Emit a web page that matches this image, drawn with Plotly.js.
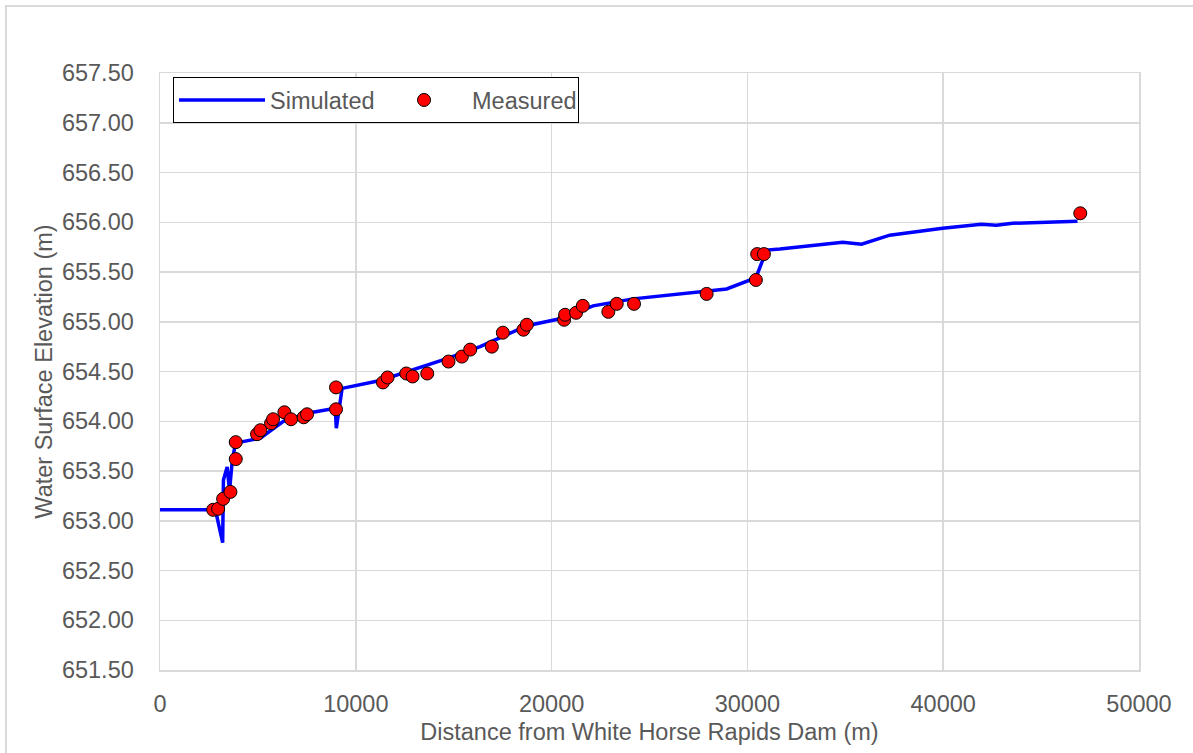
<!DOCTYPE html>
<html>
<head>
<meta charset="utf-8">
<script src="https://cdn.plot.ly/plotly-3.0.1.min.js"></script>
<style>
  html, body { margin: 0; padding: 0; background: #fff; overflow: hidden; }
  #frame { position: absolute; left: 5px; top: 5px; width: 1400px; height: 1000px;
           border-left: 2px solid #d9d9d9; border-top: 2px solid #d9d9d9; box-sizing: border-box; }
  #chart { position: absolute; left: 0; top: 0; width: 1193px; height: 753px; }
</style>
</head>
<body>
<div id="frame"></div>
<div id="chart"></div>
<script>
// Simulated water surface profile
const simDistance = [0, 2830, 3200, 3240, 3430, 3550, 3680, 3850, 5130, 6300, 7510, 8950, 9005, 9300,
  11250, 13950, 14650, 16350, 18735, 20430, 22120, 24160, 28090, 28940, 30280, 30470, 30980, 31660,
  34870, 35830, 37270, 39970, 41950, 42710, 43550, 46860];
const simElevation = [653.11, 653.11, 652.78, 653.41, 653.54, 653.30, 653.58, 653.78, 653.83, 654.00, 654.08, 654.13, 653.93, 654.33,
  654.41, 654.585, 654.63, 654.75, 654.96, 655.03, 655.16, 655.23, 655.31, 655.33, 655.43, 655.46, 655.72, 655.73,
  655.80, 655.78, 655.87, 655.94, 655.98, 655.97, 655.99, 656.01];

// Measured water surface elevations
const measDistance = [2714, 2969, 3224, 3597, 3869, 3869, 4957, 5128, 5672, 5774, 6352, 6692, 7338, 7510, 8990, 8990,
  11386, 11622, 12577, 12899, 13648, 14735, 15418, 15842, 16949, 17510, 18561, 18735, 20638, 20689, 21250, 21592,
  22898, 23326, 24209, 27918, 30434, 30500, 30842, 47000];
const measElevation = [653.11, 653.12, 653.22, 653.29, 653.62, 653.79, 653.87, 653.91, 653.98, 654.02, 654.09, 654.02, 654.04, 654.07, 654.12, 654.34,
  654.39, 654.44, 654.48, 654.45, 654.48, 654.60, 654.65, 654.72, 654.75, 654.89, 654.92, 654.97, 655.02, 655.07, 655.09, 655.16,
  655.10, 655.18, 655.18, 655.28, 655.42, 655.68, 655.68, 656.09];

const xTickVals = [0, 10000, 20000, 30000, 40000, 50000];
const xTickText = ['0', '10000', '20000', '30000', '40000', '50000'];
const yTickVals = [651.5, 652.0, 652.5, 653.0, 653.5, 654.0, 654.5, 655.0, 655.5, 656.0, 656.5, 657.0, 657.5];
const yTickText = ['651.50', '652.00', '652.50', '653.00', '653.50', '654.00', '654.50', '655.00', '655.50', '656.00', '656.50', '657.00', '657.50'];

const FONT = 'Liberation Sans, Arial, sans-serif';
const TXT = '#595959';

const traces = [
  { x: simDistance, y: simElevation, mode: 'lines', name: 'Simulated',
    line: { color: '#0000ff', width: 3.5 } },
  { x: measDistance, y: measElevation, mode: 'markers', name: 'Measured',
    marker: { color: '#ff0000', size: 13, line: { color: '#000000', width: 1 } } }
];

const layout = {
  width: 1193, height: 753,
  paper_bgcolor: 'rgba(0,0,0,0)', plot_bgcolor: 'rgba(0,0,0,0)',
  margin: { l: 160, r: 54, t: 73, b: 83 },
  font: { family: FONT, size: 23.5, color: TXT },
  showlegend: true,
  legend: {
    orientation: 'h', x: 0.0133, y: 0.993, xanchor: 'left', yanchor: 'top',
    bgcolor: '#ffffff', bordercolor: '#000000', borderwidth: 1,
    font: { family: FONT, size: 23.5, color: TXT },
    entrywidth: 101, itemwidth: 86
  },
  xaxis: {
    range: [0, 50000], tickvals: xTickVals, ticktext: xTickText,
    showgrid: true, gridcolor: '#d9d9d9', gridwidth: 1.5,
    showline: true, linecolor: '#d9d9d9', linewidth: 1.5, mirror: true,
    zeroline: false, ticks: '', ticklabelstandoff: 12,
    tickfont: { family: FONT, size: 23.5, color: TXT },
    title: { text: 'Distance from White Horse Rapids Dam (m)', standoff: 8,
             font: { family: FONT, size: 23.5, color: TXT } },
    automargin: false
  },
  yaxis: {
    range: [651.5, 657.5], tickvals: yTickVals, ticktext: yTickText,
    showgrid: true, gridcolor: '#d9d9d9', gridwidth: 1.5,
    showline: true, linecolor: '#d9d9d9', linewidth: 1.5, mirror: true,
    zeroline: false, ticks: '', ticklabelstandoff: 20,
    tickfont: { family: FONT, size: 23.5, color: TXT },
    title: { text: 'Water Surface Elevation (m)', standoff: 2,
             font: { family: FONT, size: 23.5, color: TXT } },
    automargin: false
  }
};

Plotly.newPlot('chart', traces, layout, { displayModeBar: false, staticPlot: true });
</script>
</body>
</html>
